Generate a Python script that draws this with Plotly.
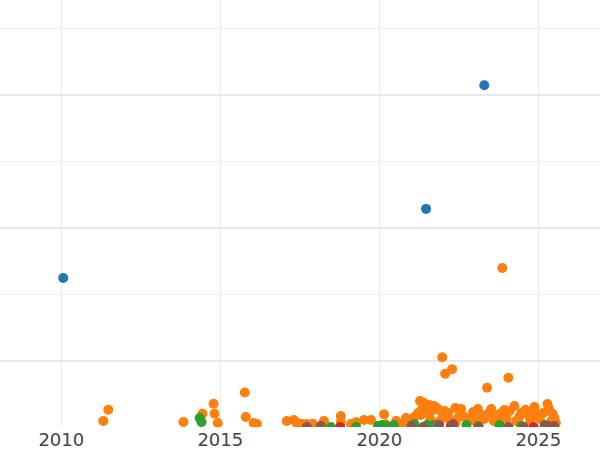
import plotly.graph_objects as go

# Series data: x = decimal year, y = value (thousands)
blue_x = [2010.06, 2021.47, 2023.30]
blue_y = [22.4, 32.8, 51.4]

orange_x = [2011.32, 2011.48, 2013.84, 2014.44, 2014.79, 2014.82, 2014.92, 2015.77, 2015.80, 2016.05,
            2016.15, 2017.09, 2017.31, 2017.41, 2017.56, 2017.72, 2017.91, 2018.26, 2018.79, 2018.79,
            2019.11, 2019.27, 2019.52, 2019.74, 2020.15, 2020.53, 2020.84, 2021.06, 2021.22, 2021.28,
            2021.41, 2021.57, 2021.72, 2021.88, 2021.98, 2022.07, 2022.29, 2022.16, 2022.39, 2022.57,
            2022.67, 2022.95, 2023.21, 2023.39, 2023.52, 2023.74, 2023.87, 2023.93, 2024.06, 2024.25,
            2024.47, 2024.69, 2024.88, 2025.29, 2025.32, 2025.51,
            2021.10, 2021.30, 2021.50, 2021.60, 2021.90, 2022.00, 2022.20, 2022.40, 2022.50, 2022.80,
            2023.00, 2023.10, 2023.30, 2023.45, 2023.60, 2023.80, 2024.00, 2024.10, 2024.30, 2024.40,
            2024.60, 2024.75, 2024.95, 2025.05, 2025.15, 2025.40, 2025.45, 2025.55, 2020.20, 2020.70,
            2021.35, 2021.45, 2021.65, 2021.80, 2022.05, 2022.12]
orange_y = [0.9, 2.6, 0.75, 2.0, 3.5, 2.0, 0.6, 5.2, 1.5, 0.6,
            0.45, 0.9, 1.05, 0.6, 0.45, 0.45, 0.5, 0.9, 1.65, 0.75,
            0.45, 0.7, 1.05, 1.05, 1.9, 0.9, 1.35, 1.05, 2.1, 3.9,
            3.6, 3.3, 3.15, 2.55, 10.5, 8.0, 8.7, 2.1, 2.85, 2.7,
            1.5, 2.25, 1.8, 5.9, 2.7, 1.65, 23.9, 2.55, 7.4, 3.15,
            2.1, 1.8, 3.0, 3.45, 2.85, 1.35,
            1.5, 1.8, 2.4, 1.2, 0.9, 1.8, 1.2, 0.6, 1.5, 1.2,
            0.9, 2.7, 1.2, 2.1, 0.9, 2.0, 1.2, 2.4, 0.9, 1.5,
            2.6, 1.0, 2.0, 1.2, 2.1, 0.8, 2.0, 0.6, 0.4, 0.5,
            2.7, 2.2, 2.5, 2.9, 2.4, 1.6]

green_x = [2014.35, 2014.41, 2018.48, 2019.27, 2019.96, 2020.10, 2020.21, 2020.46, 2021.10, 2021.50,
           2021.72, 2022.74, 2023.12, 2023.78, 2024.47, 2025.20]
green_y = [1.35, 0.75, 0.0, 0.0, 0.15, 0.3, 0.15, 0.3, 0.45, 0.3,
           0.3, 0.3, 0.15, 0.3, 0.15, 0.3]

red_x = [2018.77, 2022.25, 2024.85]
red_y = [0.0, 0.15, 0.0]

purple_x = [2021.83]
purple_y = [0.1]

brown_x = [2017.72, 2018.16, 2021.00, 2021.38, 2021.88, 2022.32, 2023.12, 2024.06, 2024.54, 2025.20,
           2025.30, 2025.50]
brown_y = [0.0, 0.15, 0.15, 0.0, 0.3, 0.45, 0.0, 0.0, 0.0, 0.15,
           0.2, 0.15]

series = [
    ("blue", blue_x, blue_y, "#1f77b4"),
    ("orange", orange_x, orange_y, "#ff7f0e"),
    ("green", green_x, green_y, "#2ca02c"),
    ("red", red_x, red_y, "#d62728"),
    ("purple", purple_x, purple_y, "#9467bd"),
    ("brown", brown_x, brown_y, "#8c564b"),
]

x_ticks = [2010, 2015, 2020, 2025]
x_tick_labels = ["2010", "2015", "2020", "2025"]

fig = go.Figure()
for name, xs, ys, col in series:
    fig.add_trace(go.Scatter(x=xs, y=ys, mode="markers", name=name,
                             marker=dict(size=10, color=col)))

fig.update_layout(
    width=600, height=450,
    margin=dict(l=0, r=0, t=0, b=23),
    paper_bgcolor="white", plot_bgcolor="white",
    showlegend=False,
    font=dict(family="DejaVu Sans", size=18, color="#444"),
)
fig.update_xaxes(
    range=[2008.072, 2026.94],
    tickvals=x_ticks, ticktext=x_tick_labels,
    showgrid=True, gridcolor="#ebebeb", gridwidth=1,
    zeroline=False, showline=False, ticks="",
)
fig.update_yaxes(
    range=[0, 64.21],
    tick0=10, dtick=20,
    showticklabels=False,
    showgrid=True, gridcolor="#e8e8e8", gridwidth=2,
    zeroline=False, showline=False, ticks="",
    minor=dict(showgrid=True, tick0=0, dtick=10, gridcolor="#efefef", gridwidth=1),
)

fig.write_html("out.html",
               config={"displayModeBar": False},
               post_script="document.body.style.margin='0';document.body.style.padding='0';")
